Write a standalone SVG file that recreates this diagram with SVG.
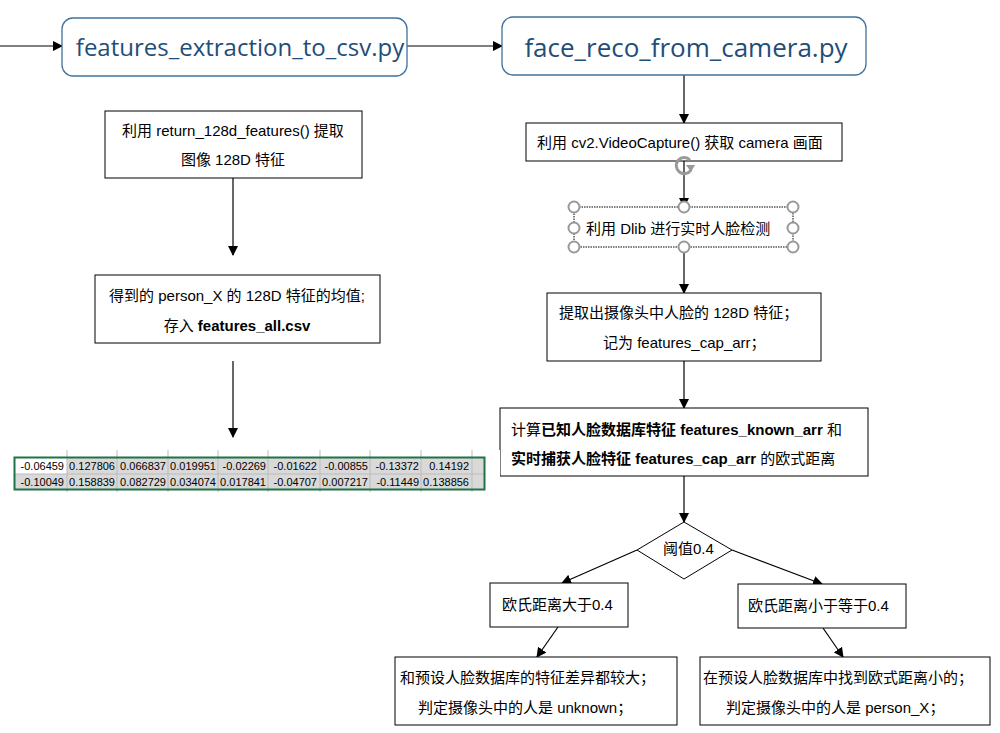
<svg xmlns="http://www.w3.org/2000/svg" width="1000" height="733" viewBox="0 0 1000 733">
<defs>
<marker id="arr" markerWidth="10" markerHeight="10" refX="9" refY="5" orient="auto" markerUnits="userSpaceOnUse">
<path d="M0,0 L10,5 L0,10 z" fill="#000"/>
</marker>
<style>
.title{font-family:"Open Sans","Noto Sans",sans-serif;fill:#1F4E79}
.tbox{fill:#fff;stroke:#41719C;stroke-width:1.3}
.box{fill:#fff;stroke:#000;stroke-width:1}
.t{font-family:"Liberation Sans","Noto Sans CJK SC",sans-serif;font-size:15px;fill:#000}
.b{font-weight:bold}
.ln{stroke:#000;stroke-width:1.2;fill:none}
.h{fill:#fff;stroke:#999;stroke-width:2}
.cell{font-family:"Liberation Sans","Noto Sans",sans-serif;font-size:11px;fill:#000;text-anchor:end}
.grid{stroke:#bbb;stroke-width:1}
</style>
</defs>
<rect width="1000" height="733" fill="#fff"/>

<g id="connectors">
<line class="ln" x1="0" y1="46" x2="62" y2="46" marker-end="url(#arr)"/>
<line class="ln" x1="407" y1="46" x2="502" y2="46" marker-end="url(#arr)"/>
<line class="ln" x1="684" y1="75" x2="684" y2="123" marker-end="url(#arr)"/>
<line class="ln" x1="684" y1="161" x2="684" y2="207" marker-end="url(#arr)"/>
<line class="ln" x1="684" y1="247" x2="684" y2="293" marker-end="url(#arr)"/>
<line class="ln" x1="684" y1="361" x2="684" y2="408" marker-end="url(#arr)"/>
<line class="ln" x1="684" y1="476" x2="684" y2="522" marker-end="url(#arr)"/>
<line class="ln" x1="637" y1="550" x2="562" y2="583" marker-end="url(#arr)"/>
<line class="ln" x1="732" y1="550" x2="822" y2="584" marker-end="url(#arr)"/>
<line class="ln" x1="558" y1="627" x2="537" y2="657" marker-end="url(#arr)"/>
<line class="ln" x1="823" y1="628" x2="843" y2="657" marker-end="url(#arr)"/>
<line class="ln" x1="233" y1="178" x2="233" y2="255" marker-end="url(#arr)"/>
<line class="ln" x1="233" y1="361" x2="233" y2="437" marker-end="url(#arr)"/>
</g>

<g id="n_extract">
<rect class="tbox" x="62" y="18" width="345" height="58" rx="11"/>
<text class="title" x="240" y="56" font-size="24" text-anchor="middle">features_extraction_to_csv.py</text>
</g>

<g id="n_camera">
<rect class="tbox" x="502" y="17" width="364" height="58" rx="11"/>
<text class="title" x="686" y="57" font-size="26" text-anchor="middle">face_reco_from_camera.py</text>
</g>

<g id="n_capture">
<rect class="box" x="526" y="123" width="316" height="38"/>
<text class="t" x="537" y="148">利用 cv2.VideoCapture() 获取 camera 画面</text>
</g>

<g id="rotate_handle">
<path d="M690,160 A8,8 0 1 0 691,170" fill="none" stroke="#999" stroke-width="3"/>
<path d="M686,165 L695,165 L691,172 z" fill="#999"/>
</g>

<g id="n_dlib">
<rect x="574" y="207" width="219" height="40" fill="#fff" stroke="#000" stroke-width="1" stroke-dasharray="1.5,1"/>
<text class="t" x="586" y="234">利用 Dlib 进行实时人脸检测</text>
<circle class="h" cx="574" cy="207" r="5.5"/>
<circle class="h" cx="684" cy="207" r="5.5"/>
<circle class="h" cx="793" cy="207" r="5.5"/>
<circle class="h" cx="574" cy="228" r="5.5"/>
<circle class="h" cx="793" cy="228" r="5.5"/>
<circle class="h" cx="574" cy="247" r="5.5"/>
<circle class="h" cx="684" cy="247" r="5.5"/>
<circle class="h" cx="793" cy="247" r="5.5"/>
</g>

<g id="n_cap_feat">
<rect class="box" x="547" y="293" width="274" height="68"/>
<text class="t" x="559" y="318">提取出摄像头中人脸的 128D 特征；</text>
<text class="t" x="603" y="348">记为 features_cap_arr；</text>
</g>

<g id="n_calc">
<rect class="box" x="500" y="408" width="368" height="68"/>
<text class="t" x="511" y="435">计算<tspan class="b">已知人脸数据库特征 features_known_arr</tspan> 和</text>
<text class="t" x="511" y="464"><tspan class="b">实时捕获人脸特征 features_cap_arr</tspan> 的欧式距离</text>
</g>

<g id="n_threshold">
<polygon points="684,522 732,550 684,579 637,550" fill="#fff" stroke="#000" stroke-width="1"/>
<text class="t" x="663" y="554">阈值0.4</text>
</g>

<g id="n_greater">
<rect class="box" x="490" y="583" width="138" height="44"/>
<text class="t" x="502" y="610">欧氏距离大于0.4</text>
</g>

<g id="n_less">
<rect class="box" x="738" y="584" width="168" height="44"/>
<text class="t" x="748" y="611">欧氏距离小于等于0.4</text>
</g>

<g id="n_unknown">
<rect class="box" x="395" y="657" width="282" height="68"/>
<text class="t" x="400" y="683">和预设人脸数据库的特征差异都较大；</text>
<text class="t" x="418" y="713">判定摄像头中的人是 unknown；</text>
</g>

<g id="n_person">
<rect class="box" x="700" y="657" width="290" height="68"/>
<text class="t" x="703" y="683">在预设人脸数据库中找到欧式距离小的；</text>
<text class="t" x="726" y="713">判定摄像头中的人是 person_X；</text>
</g>

<g id="n_return128">
<rect class="box" x="105" y="111" width="257" height="67"/>
<text class="t" x="233" y="136" text-anchor="middle">利用 return_128d_features() 提取</text>
<text class="t" x="233" y="165" text-anchor="middle">图像 128D 特征</text>
</g>

<g id="n_mean">
<rect class="box" x="95" y="275" width="285" height="68"/>
<text class="t" x="237" y="301" text-anchor="middle">得到的 person_X 的 128D 特征的均值;</text>
<text class="t" x="237" y="331" text-anchor="middle">存入 <tspan class="b">features_all.csv</tspan></text>
</g>

<g id="n_table">
<rect x="13" y="450" width="473" height="42" fill="#fff"/>
<rect x="15" y="458" width="469" height="31" fill="#d9d9d9"/>
<rect x="15" y="458" width="52" height="16" fill="#fff"/>
<g class="grid">
<line x1="67" y1="450" x2="67" y2="492"/>
<line x1="117" y1="450" x2="117" y2="492"/>
<line x1="168" y1="450" x2="168" y2="492"/>
<line x1="218" y1="450" x2="218" y2="492"/>
<line x1="268" y1="450" x2="268" y2="492"/>
<line x1="320" y1="450" x2="320" y2="492"/>
<line x1="370" y1="450" x2="370" y2="492"/>
<line x1="421" y1="450" x2="421" y2="492"/>
<line x1="472" y1="450" x2="472" y2="492"/>
<line x1="15" y1="474" x2="484" y2="474"/>
</g>
<rect x="14.5" y="457.5" width="470" height="32" fill="none" stroke="#217346" stroke-width="2"/>
<g class="cell">
<text x="64" y="470">-0.06459</text>
<text x="115" y="470">0.127806</text>
<text x="166" y="470">0.066837</text>
<text x="216" y="470">0.019951</text>
<text x="266" y="470">-0.02269</text>
<text x="317" y="470">-0.01622</text>
<text x="368" y="470">-0.00855</text>
<text x="419" y="470">-0.13372</text>
<text x="469" y="470">0.14192</text>
<text x="64" y="486">-0.10049</text>
<text x="115" y="486">0.158839</text>
<text x="166" y="486">0.082729</text>
<text x="216" y="486">0.034074</text>
<text x="266" y="486">0.017841</text>
<text x="317" y="486">-0.04707</text>
<text x="368" y="486">0.007217</text>
<text x="419" y="486">-0.11449</text>
<text x="469" y="486">0.138856</text>
</g>
<rect x="486" y="450" width="14" height="42" fill="#fff"/>
</g>
</svg>
